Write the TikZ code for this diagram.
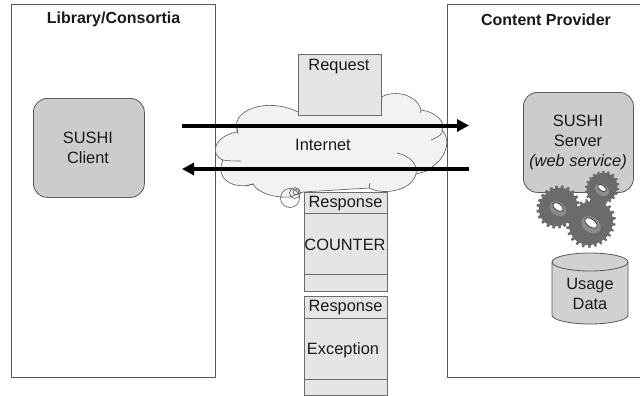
\documentclass[tikz,border=0pt]{standalone}
\usepackage{fontspec}
\setmainfont{Liberation Sans}
\usetikzlibrary{arrows.meta,shapes.geometric}
\definecolor{edgec}{gray}{0.35}
\tikzset{
  panel/.style={draw=edgec,line width=0.7pt,fill=white,anchor=north west,inner sep=0pt},
  docbox/.style={draw=gray!85!black,line width=0.9pt,fill=black!10,anchor=north west,inner sep=0pt},
  rbox/.style={draw=edgec,line width=0.8pt,fill=black!20,rounded corners=14pt,anchor=north west,inner sep=0pt},
  lbl/.style={font=\fontsize{16.4}{20}\selectfont,text=black!90,align=center,inner sep=0pt},
  head/.style={font=\bfseries\fontsize{16}{19}\selectfont,text=black!90,inner sep=0pt},
  flow/.style={line width=4pt,-{Triangle[length=12pt,width=12pt]},black},
  rule/.style={draw=gray!85!black,line width=0.9pt},
  gear/.style={fill=black!58},
  hole/.style={fill=white,draw=black!75,line width=0.8pt},
  cloudline/.style={draw=edgec,line width=0.6pt}
}
\newcommand{\mygear}[5]{% cx cy R teeth holeR
  \begin{scope}[shift={(#1,#2)}]
    \fill[gear] plot[samples=241,domain=0:360] (\x:{#3*(1+0.13*(sin(#4*\x)>0))*(1-0.10*cos(\x-45)*cos(\x-45))}) -- cycle;
    \fill[black!45,rotate=-35] (1,1.5) ellipse ({#5*1.5} and {#5*1.1});
    \draw[hole,rotate=-35] (0,0) ellipse ({#5} and {#5*0.55});
  \end{scope}}
\begin{document}
\begin{tikzpicture}[x=1pt,y=-1pt]
\useasboundingbox (0,0) rectangle (640,396);
\fill[white] (0,0) rectangle (640,396);
\node[panel,minimum width=204pt,minimum height=373pt] (lib) at (11,4) {};
\node[panel,minimum width=200pt,minimum height=373pt] (prov) at (447,4) {};
\node[head] (libt) at (113.5,19.5) {Library/Consortia};
\node[head] (provt) at (546,19.5) {Content Provider};
% cloud
\fill[black!5,draw=edgec,line width=0.6pt]
  (237,128) .. controls (232,112) and (265,96) .. (298,112)
  -- (345,112) -- (380,98)
  .. controls (390,90) and (416,92) .. (421,110)
  .. controls (436,112) and (446,122) .. (442,130)
  .. controls (450,138) and (449,155) .. (432,167)
  .. controls (428,172) and (422,172) .. (416,174)
  .. controls (412,190) and (385,196) .. (369,188)
  -- (303,192) -- (290,197)
  .. controls (274,198) and (258,193) .. (253,184)
  .. controls (235,190) and (214,180) .. (223,160)
  .. controls (209,155) and (214,136) .. (237,132) -- cycle;
\draw[cloudline] (237,128) -- (238,134);
\draw[cloudline] (223,160) .. controls (228,161) and (235,161) .. (241,161);
\draw[cloudline] (253,184) -- (246,186);
\draw[cloudline] (397,153) .. controls (410,156) and (418,164) .. (416,174);
\draw[cloudline] (369,188) -- (370,183);
\draw[cloudline] (442,130) .. controls (444,134) and (438,137) .. (431,140);
\draw[cloudline] (421,110) -- (420,113);
\draw[cloudline] (290,198) circle (9.5);
\draw[cloudline] (295,193) circle (5.5);
\draw[cloudline] (296,192) circle (2.8);
\node[lbl] (net) at (323,144.5) {Internet};
% request
\node[docbox,minimum width=83pt,minimum height=61pt] (req) at (298,54) {};
\node[lbl] at (339,67) {Request};
% response 1
\node[docbox,minimum width=83pt,minimum height=98.5pt] (r1) at (303.5,192) {};
\draw[rule] (303.5,213.5) -- (386.5,213.5);
\draw[rule] (303.5,274) -- (386.5,274);
\node[lbl] at (345.5,204) {Response};
\node[lbl] at (345,245) {COUNTER};
% response 2
\node[docbox,minimum width=83pt,minimum height=99pt] (r2) at (303.5,296) {};
\draw[rule] (303.5,318) -- (386.5,318);
\draw[rule] (303.5,379) -- (386.5,379);
\node[lbl] at (345.5,308) {Response};
\node[lbl] at (343,350) {Exception};
% client/server
\node[rbox,minimum width=111pt,minimum height=99pt] (client) at (33,98) {};
\node[lbl] at (88,148) {SUSHI\\Client};
\node[rbox,minimum width=110pt,minimum height=100pt] (server) at (523,92) {};
\node[lbl] at (578,142.5) {SUSHI\\Server\\\textit{(web service)}};
% arrows
\coordinate (a1) at (182,125.5); \coordinate (a2) at (469,125.5);
\coordinate (b1) at (469,169); \coordinate (b2) at (182,169);
\draw[flow] (a1) -- (a2);
\draw[flow] (b1) -- (b2);
% gears
\mygear{558}{207}{20}{22}{6}
\mygear{602}{188}{16}{20}{5}
\mygear{591}{223}{23}{24}{7}
% cylinder
\filldraw[fill=black!18,draw=edgec,line width=0.8pt]
  (552,262) -- (552,315) arc[start angle=180,end angle=360,x radius=38,y radius=-9] -- (628,262)
  arc[start angle=0,end angle=180,x radius=38,y radius=-9] -- cycle;
\draw[edgec,line width=0.8pt] (552,262) arc[start angle=180,end angle=360,x radius=38,y radius=-9];
\node[lbl] at (590,294) {Usage\\Data};
\end{tikzpicture}
\end{document}
